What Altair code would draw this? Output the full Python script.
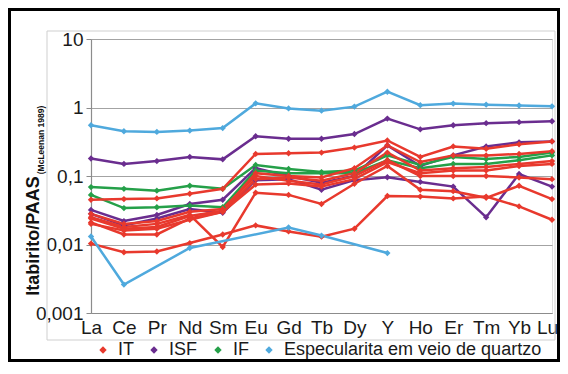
import altair as alt
import pandas as pd

elements = ["La", "Ce", "Pr", "Nd", "Sm", "Eu", "Gd", "Tb", "Dy", "Y", "Ho", "Er", "Tm", "Yb", "Lu"]
groups = ["IT", "ISF", "IF", "Especularita em veio de quartzo"]
colors = ["#E8392D", "#6A2D8F", "#25A049", "#4FA9DD"]
y_ticks = [0.001, 0.01, 0.1, 1, 10]
y_title = "Itabirito/PAAS"
y_subtitle = "(McLeenan 1989)"

# IT (red)
it_1 = [0.045, 0.046, 0.047, 0.055, 0.065, 0.21, 0.215, 0.22, 0.26, 0.33, 0.19, 0.27, 0.25, 0.29, 0.32]
it_2 = [0.0103, 0.0077, 0.0079, 0.0105, 0.014, 0.019, 0.0155, 0.013, 0.017, 0.051, 0.05, 0.047, 0.05, 0.036, 0.023]
it_3 = [0.025, 0.018, 0.020, 0.027, 0.0092, 0.057, 0.053, 0.039, 0.077, 0.14, 0.063, 0.060, 0.048, 0.072, 0.046]
it_4 = [0.028, 0.020, 0.022, 0.030, 0.033, 0.10, 0.085, 0.075, 0.10, 0.17, 0.10, 0.10, 0.10, 0.095, 0.09]
it_5 = [0.021, 0.014, 0.014, 0.024, 0.030, 0.09, 0.095, 0.085, 0.11, 0.22, 0.12, 0.13, 0.135, 0.15, 0.165]
it_6 = [0.024, 0.017, 0.018, 0.026, 0.031, 0.11, 0.10, 0.095, 0.13, 0.28, 0.16, 0.20, 0.20, 0.21, 0.23]
it_7 = [0.020, 0.016, 0.017, 0.023, 0.030, 0.075, 0.078, 0.070, 0.09, 0.16, 0.11, 0.12, 0.12, 0.14, 0.15]

# ISF (purple)
isf_1 = [0.18, 0.15, 0.165, 0.19, 0.175, 0.38, 0.35, 0.35, 0.41, 0.69, 0.48, 0.55, 0.59, 0.61, 0.63]
isf_2 = [0.032, 0.022, 0.027, 0.039, 0.045, 0.13, 0.10, 0.08, 0.10, 0.28, 0.14, 0.20, 0.27, 0.31, 0.32]
isf_3 = [0.028, 0.019, 0.024, 0.033, 0.029, 0.087, 0.09, 0.063, 0.087, 0.096, 0.082, 0.07, 0.025, 0.107, 0.07]

# IF (green)
if_1 = [0.069, 0.065, 0.061, 0.072, 0.065, 0.145, 0.127, 0.114, 0.12, 0.20, 0.145, 0.19, 0.177, 0.19, 0.22]
if_2 = [0.053, 0.034, 0.035, 0.037, 0.035, 0.12, 0.11, 0.11, 0.11, 0.17, 0.13, 0.15, 0.15, 0.17, 0.20]

# Especularita em veio de quartzo (blue)
esp_1 = [0.55, 0.45, 0.44, 0.46, 0.50, 1.15, 0.97, 0.90, 1.03, 1.70, 1.08, 1.14, 1.10, 1.07, 1.04]
esp_2 = [0.0131, 0.0026, None, 0.0089, None, None, 0.0177, 0.0135, None, 0.0075, None, None, None, None, None]

series = [
    ("ISF-1", "ISF", isf_1), ("ISF-2", "ISF", isf_2), ("ISF-3", "ISF", isf_3),
    ("IF-1", "IF", if_1), ("IF-2", "IF", if_2),
    ("IT-1", "IT", it_1), ("IT-2", "IT", it_2), ("IT-3", "IT", it_3), ("IT-4", "IT", it_4),
    ("IT-5", "IT", it_5), ("IT-6", "IT", it_6), ("IT-7", "IT", it_7),
    ("ESP-1", "Especularita em veio de quartzo", esp_1),
    ("ESP-2", "Especularita em veio de quartzo", esp_2),
]

rows = []
for order, (sid, grp, vals) in enumerate(series):
    for el, v in zip(elements, vals):
        if v is not None:
            rows.append({"sample": sid, "group": grp, "element": el, "value": v, "order": order})
df = pd.DataFrame(rows)

FONT = "Liberation Sans"
W, H = 461, 274
PAD = {"left": 83, "top": 31, "right": 8, "bottom": 49}

x = alt.X("element:N", sort=elements,
          scale=alt.Scale(type="point", padding=0),
          axis=alt.Axis(title=None, labelAngle=0, labelFontSize=19, labelColor="#1a1a1a",
                        labelFont=FONT, domainColor="#8c8c8c", domainWidth=1.2, ticks=False,
                        labelPadding=5, labelOverlap=False, grid=False,
                        labelOffset={"condition": {"test": "datum.value === 'Lu'", "value": -5},
                                     "value": 0}))
y = alt.Y("value:Q",
          scale=alt.Scale(type="log", domain=[0.001, 10], nice=False),
          axis=alt.Axis(title=None, values=y_ticks,
                        labelExpr="replace(toString(datum.value), '.', ',')",
                        grid=True, gridColor="#a3a3a3", gridWidth=1.2,
                        tickColor="#8c8c8c", tickSize=5, labelFontSize=19, labelFont=FONT,
                        labelColor="#1a1a1a", labelPadding=3, domainColor="#8c8c8c",
                        domainWidth=1.2))
legend = alt.Legend(title=None, orient="none", legendX=3, legendY=302,
                    direction="horizontal", symbolType="diamond",
                    symbolSize=55, labelFontSize=18, labelFont=FONT, labelLimit=500,
                    labelColor="#1a1a1a", columnPadding=11, labelOffset=6,
                    padding=0, symbolStrokeWidth=0, symbolOpacity=1)
color = alt.Color("group:N", scale=alt.Scale(domain=groups, range=colors), legend=legend)

# first layer: invisible filled diamonds that give the shared legend its filled symbols
legend_src = alt.Chart(df).mark_point(shape="diamond", filled=True, size=0).encode(
    x=x, y=y, color=color, detail="sample:N")
lines = alt.Chart(df).mark_line(strokeWidth=2.5).encode(
    x=x, y=y, color=color, detail="sample:N", order="order:Q")
points = alt.Chart(df).mark_point(shape="diamond", filled=True, size=40, opacity=1).encode(
    x=x, y=y, color=color, detail="sample:N")

one = pd.DataFrame({"t": [y_title]})
title = alt.Chart(one).mark_text(angle=270, fontSize=18, fontWeight="bold", font=FONT,
                                 color="#111111", align="center", baseline="middle").encode(
    text=alt.value(y_title), x=alt.value(-57), y=alt.value(197))
subtitle = alt.Chart(one).mark_text(angle=270, fontSize=8.5, fontWeight="bold", font=FONT,
                                    color="#111111", align="center", baseline="middle").encode(
    text=alt.value(y_subtitle), x=alt.value(-50), y=alt.value(101))

gray_box = alt.Chart(one).mark_rect(fillOpacity=0, stroke="#cfcfcf", strokeWidth=1).encode(
    x=alt.value(-44), x2=alt.value(464), y=alt.value(-8), y2=alt.value(301))
frame = alt.Chart(one).mark_rect(fillOpacity=0, stroke="#000000", strokeWidth=3).encode(
    x=alt.value(-PAD["left"] + 1.5), x2=alt.value(W + PAD["right"] - 1.5),
    y=alt.value(-PAD["top"] + 1.5), y2=alt.value(H + PAD["bottom"] - 1.5))

chart = alt.layer(legend_src, gray_box, lines, points, title, subtitle, frame).properties(
    width=W, height=H, autosize="none", padding=PAD, background="white"
).configure_view(stroke=None).configure(font=FONT)

chart.save("out.html", embed_options={"renderer": "svg", "actions": False})
